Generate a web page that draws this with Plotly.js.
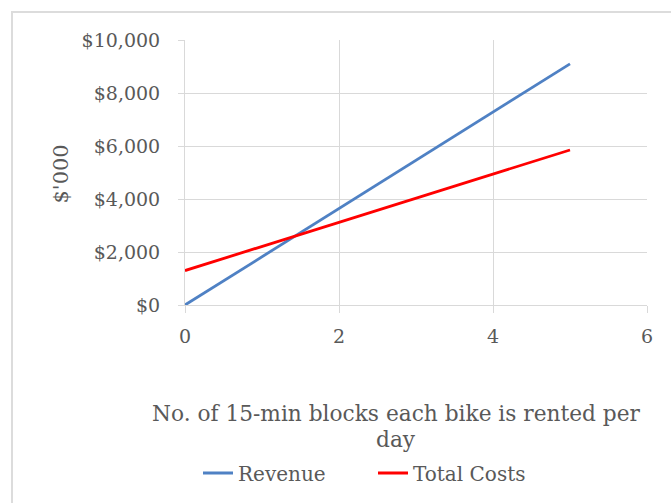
<!DOCTYPE html>
<html><head><meta charset="utf-8">
<script src="https://cdn.plot.ly/plotly-3.0.1.min.js"></script>
<style>html,body{margin:0;padding:0;background:#fff;}#chart{width:671px;height:503px;}</style>
</head><body><div id="chart"></div>
<script>
var blocks = [0, 1, 2, 3, 4, 5];
var revenue = [0, 1820, 3640, 5460, 7280, 9100];
var totalCosts = [1300, 2210, 3120, 4030, 4940, 5850];
var yTickVals = [0, 2000, 4000, 6000, 8000, 10000];
var yTickText = ['$0', '$2,000', '$4,000', '$6,000', '$8,000', '$10,000'];
var xTickVals = [0, 2, 4, 6];
var xTitleLine1 = 'No. of 15-min blocks each bike is rented per';
var xTitleLine2 = 'day';
var yTitle = "$'000";

var fontFam = 'DejaVu Serif, Liberation Serif, serif';
var grey = '#595959';
var L = 185, R = 647, T = 40, B = 306;
var pw = R - L, ph = B - T;
function px(x) { return (x - L) / pw; }
function py(y) { return (B - y) / ph; }

var traces = [
  {x: blocks, y: revenue, name: 'Revenue', mode: 'lines', line: {color: '#4f81c4', width: 2.8}},
  {x: blocks, y: totalCosts, name: 'Total Costs', mode: 'lines', line: {color: '#ff0000', width: 2.8}}
];
var layout = {
  width: 671, height: 503,
  margin: {l: L, r: 671 - R, t: T, b: 503 - B},
  paper_bgcolor: '#fff', plot_bgcolor: '#fff',
  font: {family: fontFam, color: grey, size: 19},
  showlegend: true,
  legend: {orientation: 'h', x: px(198), xanchor: 'left', y: py(473), yanchor: 'middle',
           font: {family: fontFam, size: 20, color: grey}, tracegroupgap: 0,
           entrywidth: 130, entrywidthmode: 'pixels'},
  xaxis: {range: [0, 6], tickvals: xTickVals, showgrid: true, gridcolor: '#d9d9d9', gridwidth: 1,
          zeroline: false, showline: true, linecolor: '#d9d9d9', ticks: 'outside', ticklen: 7,
          tickcolor: '#d9d9d9', fixedrange: true, ticklabelstandoff: 7, tickfont: {size: 19, color: grey}},
  yaxis: {range: [0, 10000], tickvals: yTickVals, ticktext: yTickText, showgrid: true, gridcolor: '#d9d9d9',
          zeroline: false, showline: true, linecolor: '#d9d9d9', ticks: 'outside', ticklen: 6,
          tickcolor: '#d9d9d9', fixedrange: true, ticklabelstandoff: 14, tickfont: {size: 19, color: grey}},
  annotations: [
    {xref: 'paper', yref: 'paper', x: px(396), y: py(415), text: xTitleLine1,
     showarrow: false, xanchor: 'center', yanchor: 'middle', font: {family: fontFam, size: 21.7, color: grey}},
    {xref: 'paper', yref: 'paper', x: px(396), y: py(441), text: xTitleLine2,
     showarrow: false, xanchor: 'center', yanchor: 'middle', font: {family: fontFam, size: 21.7, color: grey}},
    {xref: 'paper', yref: 'paper', x: px(61), y: py(175), text: yTitle, textangle: -90,
     showarrow: false, xanchor: 'center', yanchor: 'middle', font: {family: fontFam, size: 21, color: grey}}
  ],
  shapes: [
    {type: 'rect', xref: 'paper', yref: 'paper', x0: px(12), x1: px(900), y0: py(900), y1: py(12),
     line: {color: '#dcdcdc', width: 2}, fillcolor: 'rgba(0,0,0,0)', layer: 'below'}
  ]
};
Plotly.newPlot('chart', traces, layout, {displayModeBar: false, staticPlot: true});
</script></body></html>
